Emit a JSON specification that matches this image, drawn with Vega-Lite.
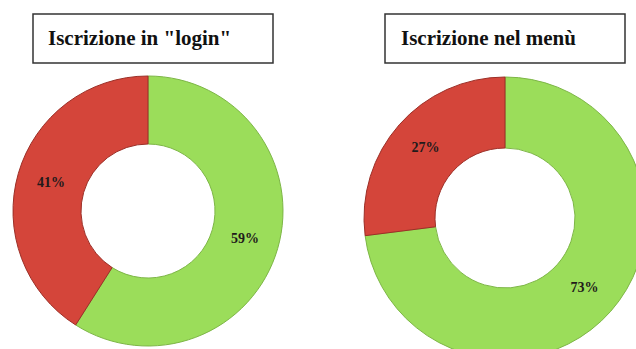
{
  "$schema": "https://vega.github.io/schema/vega-lite/v6.json",
  "background": "white",
  "padding": {"left": 11, "top": 13, "right": 0, "bottom": 0},
  "autosize": {"type": "pad"},
  "config": {"view": {"stroke": null}},
  "datasets": {
    "login": [
      {"categoria": "Sì", "ordine": 1, "quota": 0.59},
      {"categoria": "No", "ordine": 2, "quota": 0.41}
    ],
    "menu": [
      {"categoria": "Sì", "ordine": 1, "quota": 0.73},
      {"categoria": "No", "ordine": 2, "quota": 0.27}
    ]
  },
  "columns": 2,
  "bounds": "flush",
  "spacing": {"row": 10, "column": 112},
  "concat": [
    {
      "data": {"values": [{"titolo": "Iscrizione in \"login\""}]},
      "width": 240,
      "height": 49,
      "view": {"stroke": "#333333", "strokeWidth": 1.5},
      "mark": {"type": "text", "align": "left", "baseline": "alphabetic", "x": 15, "y": 31, "font": "Liberation Serif", "fontWeight": "bold", "fontSize": 21, "color": "#111111"},
      "encoding": {"text": {"field": "titolo"}}
    },
    {
      "data": {"values": [{"titolo": "Iscrizione nel menù"}]},
      "width": 240,
      "height": 49,
      "view": {"stroke": "#333333", "strokeWidth": 1.5},
      "mark": {"type": "text", "align": "left", "baseline": "alphabetic", "x": 16, "y": 31, "font": "Liberation Serif", "fontWeight": "bold", "fontSize": 21, "color": "#111111"},
      "encoding": {"text": {"field": "titolo"}}
    },
    {
      "data": {"name": "login"},
      "width": 230,
      "height": 276,
      "encoding": {
        "theta": {"field": "quota", "type": "quantitative", "stack": true},
        "order": {"field": "ordine", "type": "quantitative"}
      },
      "layer": [
        {
          "mark": {"type": "arc", "radius": 135, "radius2": 67, "strokeWidth": 1},
          "encoding": {
            "color": {"field": "categoria", "type": "nominal", "scale": {"domain": ["Sì", "No"], "range": ["#9BDD5A", "#D4453A"]}, "legend": null},
            "stroke": {"field": "categoria", "type": "nominal", "scale": {"domain": ["Sì", "No"], "range": ["#7DB646", "#9C2F27"]}, "legend": null}
          }
        },
        {
          "mark": {"type": "text", "radius": 101, "font": "Liberation Serif", "fontWeight": "bold", "fontSize": 14, "color": "#221a1a"},
          "encoding": {"text": {"field": "quota", "type": "quantitative", "format": ".0%"}}
        }
      ]
    },
    {
      "data": {"name": "menu"},
      "width": 240,
      "height": 290,
      "encoding": {
        "theta": {"field": "quota", "type": "quantitative", "stack": true},
        "order": {"field": "ordine", "type": "quantitative"}
      },
      "layer": [
        {
          "mark": {"type": "arc", "radius": 141, "radius2": 70, "strokeWidth": 1},
          "encoding": {
            "color": {"field": "categoria", "type": "nominal", "scale": {"domain": ["Sì", "No"], "range": ["#9BDD5A", "#D4453A"]}, "legend": null},
            "stroke": {"field": "categoria", "type": "nominal", "scale": {"domain": ["Sì", "No"], "range": ["#7DB646", "#9C2F27"]}, "legend": null}
          }
        },
        {
          "mark": {"type": "text", "radius": 106, "font": "Liberation Serif", "fontWeight": "bold", "fontSize": 14, "color": "#221a1a"},
          "encoding": {"text": {"field": "quota", "type": "quantitative", "format": ".0%"}}
        }
      ]
    }
  ]
}
